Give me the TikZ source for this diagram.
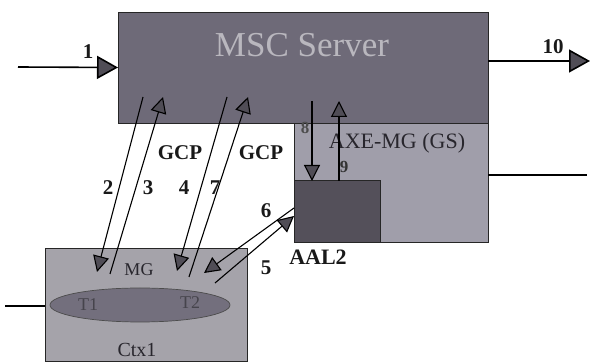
\documentclass[tikz,border=0pt]{standalone}
\usepackage{fontspec}
\setmainfont{Liberation Serif}
\usetikzlibrary{arrows.meta,shapes.geometric}
\definecolor{mscfill}{RGB}{110,106,120}
\definecolor{axefill}{RGB}{160,158,170}
\definecolor{aalfill}{RGB}{84,80,90}
\definecolor{mgfill}{RGB}{165,163,170}
\definecolor{ellfill}{RGB}{115,111,125}
\definecolor{tipgray}{RGB}{80,77,86}
\definecolor{lighttext}{RGB}{185,183,190}
\definecolor{darktext}{RGB}{40,38,45}
\definecolor{faint}{RGB}{70,68,76}
\tikzset{
  box/.style={draw=black!85, line width=0.9pt, inner sep=0pt, outer sep=0pt, anchor=north west},
  bigarr/.style={line width=1.6pt, -{Triangle[length=21pt,width=23pt,fill=tipgray]}},
  arr/.style={line width=1.1pt, -{Triangle[length=16pt,width=16pt,fill=tipgray]}},
  plain/.style={line width=1.3pt},
  num/.style={font=\fontsize{21}{21}\selectfont\bfseries, text=black!90, inner sep=0pt},
  lbl/.style={font=\fontsize{20}{20}\selectfont, text=darktext, inner sep=0pt},
}
\begin{document}
\begin{tikzpicture}[x=1pt,y=-1pt]
\useasboundingbox (0,0) rectangle (590,363);
% boxes
\node[box, fill=axefill, minimum width=194pt, minimum height=119pt] (axe) at (294,123) {};
\node[box, fill=aalfill, minimum width=86pt, minimum height=62pt] (aal) at (294,180) {};
\node[box, fill=mscfill, minimum width=370pt, minimum height=111pt] (msc) at (118,12) {};
\node[box, fill=mgfill, minimum width=202pt, minimum height=113pt] (mg) at (45,248) {};
\node[draw=black!70, line width=0.7pt, fill=ellfill, ellipse, minimum width=180pt, minimum height=34pt, inner sep=0pt] (ell) at (140,305) {};
% texts
\node[font=\fontsize{35}{35}\selectfont, text=lighttext] (msct) at (302,45) {MSC Server};
\node[lbl, font=\fontsize{22}{22}\selectfont] (axet) at (397,143) {AXE-MG (GS)};
\node[lbl, font=\fontsize{18}{18}\selectfont] (mgt) at (139,270) {MG};
\node[lbl, font=\fontsize{18}{18}\selectfont, text=faint] (t1) at (88,305) {T1};
\node[lbl, font=\fontsize{18}{18}\selectfont, text=faint] (t2) at (190,303) {T2};
\node[lbl, font=\fontsize{20}{20}\selectfont] (ctx) at (137,350) {Ctx1};
\node[num, font=\fontsize{22}{22}\selectfont\bfseries] (aalt) at (318,257) {AAL2};
\node[num] (n1) at (88,52) {1};
\node[num] (n10) at (553,47) {10};
\node[num] (n2) at (108,188) {2};
\node[num] (n3) at (148,188) {3};
\node[num] (n4) at (184,188) {4};
\node[num] (n7) at (215,188) {7};
\node[num] (g1) at (180,153) {GCP};
\node[num] (g2) at (261,153) {GCP};
\node[num] (n6) at (266,211) {6};
\node[num] (n5) at (266,268) {5};
\node[num, font=\fontsize{17}{17}\selectfont\bfseries, text=black!70] (n8) at (305,128) {8};
\node[num, font=\fontsize{17}{17}\selectfont\bfseries, text=black!80] (n9) at (344,167) {9};
% coordinates
\coordinate (in1) at (18,67);
\coordinate (out10) at (590,61);
\coordinate (lft) at (5,306);
\coordinate (rgt) at (587,175);
\coordinate (s2) at (143,97);  \coordinate (e2) at (97,272);
\coordinate (s3) at (110,274); \coordinate (e3) at (163,97);
\coordinate (s4) at (227,97);  \coordinate (e4) at (177,271);
\coordinate (s7) at (189,277); \coordinate (e7) at (248,97);
\coordinate (s6) at (294,208); \coordinate (e6) at (204,273);
\coordinate (s5) at (215,283); \coordinate (e5) at (294,216);
\coordinate (s8) at (312,101); \coordinate (e8) at (312,181);
\coordinate (s9) at (339,181); \coordinate (e9) at (339,101);
% connectors
\draw[bigarr] (in1) -- (msc.west);
\draw[bigarr] (msc.east |- out10) -- (out10);
\draw[plain] (lft) -- (mg.west |- lft);
\draw[plain] (axe.east |- rgt) -- (rgt);
\draw[arr] (s2) -- (e2);
\draw[arr] (s3) -- (e3);
\draw[arr] (s4) -- (e4);
\draw[arr] (s7) -- (e7);
\draw[arr] (s6) -- (e6);
\draw[arr] (s5) -- (e5);
\draw[arr] (s8) -- (e8);
\draw[arr] (s9) -- (e9);
\end{tikzpicture}
\end{document}
